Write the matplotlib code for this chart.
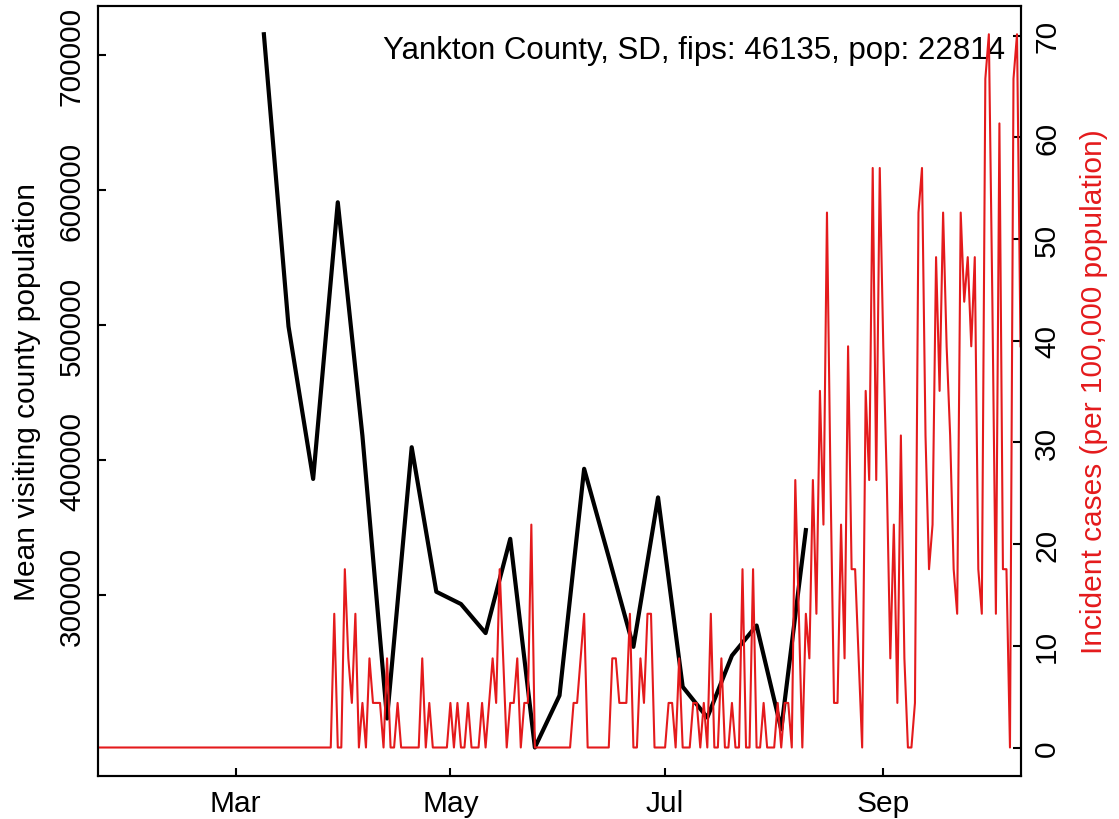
import numpy as np
import matplotlib
matplotlib.use("Agg")
from matplotlib import pyplot as plt
from matplotlib.ticker import FuncFormatter

plt.rcParams['font.family'] = ['Liberation Sans', 'DejaVu Sans']

county_note = "Yankton County, SD, fips: 46135, pop: 22814"
county_pop = 22814

# daily new cases, starting 2020-01-22
case_start = "2020-01-22"
daily_cases = [0] * 67 + [
    3, 0, 0, 4, 2, 1, 3, 0, 1, 0, 2, 1, 1,
    1, 0, 2, 0, 0, 1, 0, 0, 0, 0,
    0, 0, 2, 0, 1, 0, 0, 0, 0, 0,
    1, 0, 1, 0, 0, 1, 0, 0, 0, 1,
    0, 1, 2, 1, 4, 2, 0, 1, 1, 2,
    0, 1, 1, 5, 0, 0, 0, 0, 0, 0,
    0, 0, 0, 0, 0, 1, 1, 2, 3, 0,
    0, 0, 0, 0, 0, 0, 2, 2, 1, 1,
    1, 3, 0, 0, 2, 1, 3, 3, 0, 0,
    0, 0, 1, 1, 0, 2, 0, 0, 0, 1,
    1, 0, 1, 0, 3, 0, 0, 2, 0, 0,
    1, 0, 0, 4, 0, 0, 4, 0, 0, 1,
    0, 0, 0, 1, 0, 1, 1, 0, 6, 3,
    0, 3, 2, 6, 3, 8, 5, 12, 6, 1,
    1, 5, 2, 9, 4, 4, 2, 0, 8, 6,
    13, 6, 13, 9, 6, 2, 5, 1, 7, 2,
    0, 0, 1, 12, 13, 7, 4, 5, 11, 8,
    12, 9, 7, 4, 3, 12, 10, 11, 9, 11,
    4, 3, 15, 16, 10, 3, 14, 4, 4, 0,
    15, 16, 9,
]

# weekly mean visiting county population, starting 2020-03-09
visit_start = "2020-03-09"
mean_visiting = [
    715500, 499000, 386000, 591000, 418000, 208500, 409500, 302400,
    293300, 271800, 341600, 187000, 225500, 393500, 328000, 261600,
    372300, 232000, 209200, 255100, 277400, 200500, 348100,
]

tick_dates = ["2020-03-01", "2020-05-01", "2020-07-01", "2020-09-01"]
tick_labels = ["Mar", "May", "Jul", "Sep"]
left_ticks = [300000, 400000, 500000, 600000, 700000]
right_ticks = [0, 10, 20, 30, 40, 50, 60, 70]

RED = "#E41A1C"
FS = 21.5


def pad_range(values):
    lo, hi = min(values), max(values)
    d = 0.04 * (hi - lo)
    return lo - d, hi + d


def main():
    case_dates = np.datetime64(case_start) + np.arange(len(daily_cases))
    incidence = np.array(daily_cases) / county_pop * 1e5
    visit_dates = np.datetime64(visit_start) + 7 * np.arange(len(mean_visiting))

    fig = plt.figure(figsize=(11.19, 8.2), dpi=100)
    ax = fig.add_axes([0.088, 0.0524, 0.824, 0.9394])
    ax.plot(visit_dates, mean_visiting, color="black", lw=3,
            solid_joinstyle="round")
    ax.set_xlim(case_dates[0], case_dates[-1])
    ax.set_ylim(*pad_range(mean_visiting))
    ax.set_yticks(left_ticks)
    ax.yaxis.set_major_formatter(FuncFormatter(lambda v, _: f"{int(v)}"))
    ax.set_xticks([np.datetime64(d) for d in tick_dates])
    ax.set_xticklabels(tick_labels)
    ax.set_ylabel("Mean visiting county population", fontsize=FS, labelpad=12)

    ax2 = ax.twinx()
    ax2.plot(case_dates, incidence, color=RED, lw=1.5)
    ax2.set_ylim(*pad_range(list(incidence) + [0]))
    ax2.set_yticks(right_ticks)
    ax2.set_ylabel("Incident cases (per 100,000 population)", color=RED,
                   fontsize=FS, labelpad=14)

    for a in (ax, ax2):
        a.tick_params(direction="in", length=6, width=1.5, labelsize=FS, pad=9)
        for s in a.spines.values():
            s.set_linewidth(1.5)
    ax.tick_params(axis="y", labelrotation=90)
    ax2.tick_params(axis="y", labelrotation=90)
    for lab in ax.get_yticklabels() + ax2.get_yticklabels():
        lab.set_va("center")

    ax.text(0.983, 0.932, county_note, transform=ax.transAxes,
            ha="right", va="baseline", fontsize=22.5)

    fig.savefig("out.png", dpi=100)


if __name__ == "__main__":
    main()
